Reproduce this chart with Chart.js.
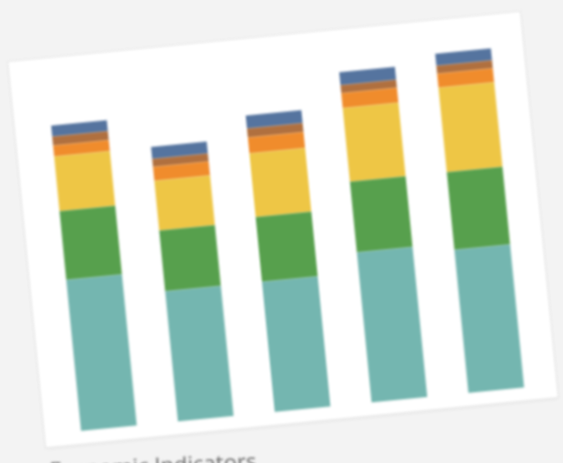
<!DOCTYPE html>
<html>
<head>
<meta charset="utf-8">
<script src="https://cdn.jsdelivr.net/npm/chart.js@4"></script>
<style>
  html, body { margin: 0; padding: 0; }
  body { width: 563px; height: 463px; background: #f3f3f3; overflow: hidden; position: relative; }
  #frame {
    position: absolute; left: 25.5px; top: 36px;
    width: 514px; height: 387px;
    transform: rotate(-5.6deg); transform-origin: 257px 193.5px;
    filter: blur(1.1px);
  }
  #card {
    position: absolute; left: 0; top: 0; width: 514px; height: 387px;
    background: #ffffff;
    box-shadow: 0 0 0 1px #e6e6e6, 0 2px 4px rgba(0,0,0,0.05);
  }
  #titulo {
    position: absolute; left: 1px; top: 409px;
    font-family: "Open Sans", sans-serif; font-size: 22px; line-height: 22px;
    color: #6a6a6a; white-space: nowrap;
    transform: rotate(3deg); transform-origin: 200px 11px;
  }
</style>
</head>
<body>
<div id="frame">
  <div id="card"><canvas id="grafico" width="514" height="387"></canvas></div>
  <div id="titulo">Economic Indicators</div>
</div>
<script>
// categorias e series (empilhadas de baixo para cima)
const categorias = ["A", "B", "C", "D", "E"];
const teal    = [152, 131, 131, 151, 144];
const verde   = [69, 61, 65, 71, 78];
const amarelo = [55, 50, 64, 74, 85];
const laranja = [11, 14, 16, 15, 14];
const marrom  = [9, 8, 9, 8, 8];
const azul    = [11, 12, 13, 13, 12];

const canvas = document.getElementById("grafico");

new Chart(canvas, {
  type: 'bar',
  data: {
    labels: categorias,
    datasets: [
      { label: "Teal", data: teal, backgroundColor: "#74b6b0" },
      { label: "Verde", data: verde, backgroundColor: "#57a04d" },
      { label: "Amarelo", data: amarelo, backgroundColor: "#eec645" },
      { label: "Laranja", data: laranja, backgroundColor: "#f08c2c" },
      { label: "Marrom", data: marrom, backgroundColor: "#b0703f" },
      { label: "Azul", data: azul, backgroundColor: "#55749f" }
    ]
  },
  options: {
    responsive: false,
    animation: false,
    layout: {
      padding: { left: 15.7, right: 11.8, top: 14.5, bottom: 12.5 }
    },
    datasets: {
      bar: {
        borderWidth: 0,
        categoryPercentage: 1,
        barPercentage: 0.575
      }
    },
    plugins: {
      legend: { display: false },
      tooltip: { enabled: false }
    },
    scales: {
      x: { stacked: true, display: false },
      y: { stacked: true, display: false, min: 0, max: 360 }
    }
  }
});
</script>
</body>
</html>
